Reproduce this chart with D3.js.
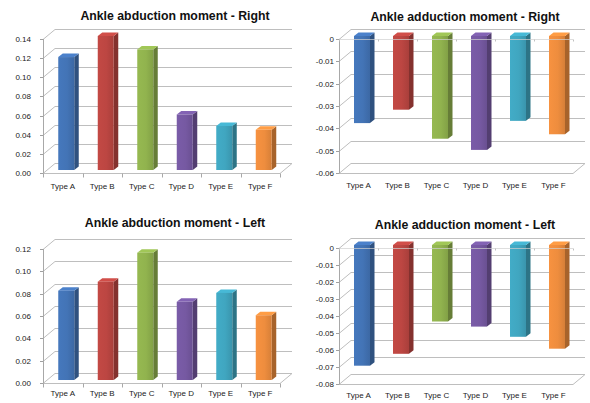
<!DOCTYPE html>
<html>
<head>
<meta charset="utf-8">
<script src="https://cdn.jsdelivr.net/npm/d3@7"></script>
<style>
  html, body { margin: 0; padding: 0; background: #fff; }
  svg { display: block; }
  text { font-family: "Liberation Sans", Arial, sans-serif; }
</style>
</head>
<body>
<svg id="chart" width="590" height="403"></svg>
<script>
// Categories shared by all four panels
const categories = ["Type A", "Type B", "Type C", "Type D", "Type E", "Type F"];

// Series values (N·m/kg)
const abductionRight = [0.118, 0.140, 0.126, 0.058, 0.046, 0.042];
const adductionRight = [-0.039, -0.033, -0.046, -0.051, -0.038, -0.044];
const abductionLeft  = [0.080, 0.088, 0.114, 0.070, 0.078, 0.058];
const adductionLeft  = [-0.071, -0.064, -0.045, -0.048, -0.054, -0.061];

// Value-axis ticks
const ticksAbductionRight = [0, 0.02, 0.04, 0.06, 0.08, 0.10, 0.12, 0.14];
const ticksAdductionRight = [0, -0.01, -0.02, -0.03, -0.04, -0.05, -0.06];
const ticksAbductionLeft  = [0, 0.02, 0.04, 0.06, 0.08, 0.10, 0.12];
const ticksAdductionLeft  = [0, -0.01, -0.02, -0.03, -0.04, -0.05, -0.06, -0.07, -0.08];

// Column colours, one per category
const colors = ["#4374B6", "#BC4642", "#91B34E", "#7659A2", "#40A6C0", "#EE8D3E"];

const fmtFixed2 = v => v.toFixed(2);
const fmtSigned = v => (v === 0 ? "0" : v.toFixed(2));

const panels = [
  { title: "Ankle abduction moment - Right", values: abductionRight, ticks: ticksAbductionRight, fmt: fmtFixed2,
    x0: 43, w: 237, yBottom: 173, yTop: 39, titleX: 175, titleY: 16, labelX: 31, catY: 186 },
  { title: "Ankle adduction moment - Right", values: adductionRight, ticks: ticksAdductionRight, fmt: fmtSigned,
    x0: 339, w: 234, yBottom: 173, yTop: 39, titleX: 465, titleY: 17, labelX: 334, catY: 185 },
  { title: "Ankle abduction moment - Left", values: abductionLeft, ticks: ticksAbductionLeft, fmt: fmtFixed2,
    x0: 43, w: 237, yBottom: 383, yTop: 249, titleX: 175, titleY: 223, labelX: 31, catY: 393 },
  { title: "Ankle adduction moment - Left", values: adductionLeft, ticks: ticksAdductionLeft, fmt: fmtSigned,
    x0: 339, w: 234, yBottom: 384, yTop: 248, titleX: 465, titleY: 225, labelX: 334, catY: 395 }
];

// Oblique depth of the plot box and of each column
const DX = 12, DY = -10;          // full depth of walls / floor
const FX = 3.5, FY = -3;          // column front face inset from the front plane
const BX = 4.5, BY = -3.5;        // column depth
const BAR_W = 16;
const GRID = "#bebebe";

const svg = d3.select("#chart");
const defs = svg.append("defs");

// Front-face gradients for the columns
colors.forEach((c, i) => {
  const g = defs.append("linearGradient").attr("id", "grad" + i)
    .attr("x1", "0%").attr("x2", "100%").attr("y1", "0%").attr("y2", "0%");
  g.append("stop").attr("offset", "0%").attr("stop-color", d3.color(c).brighter(0.1));
  g.append("stop").attr("offset", "55%").attr("stop-color", d3.color(c));
  g.append("stop").attr("offset", "100%").attr("stop-color", d3.color(c).darker(0.3));
});

const line = (g, x1, y1, x2, y2, stroke, sw) =>
  g.append("line").attr("x1", x1).attr("y1", y1).attr("x2", x2).attr("y2", y2)
    .attr("stroke", stroke).attr("stroke-width", sw || 1);

panels.forEach(p => {
  const g = svg.append("g");
  const extent = d3.extent(p.ticks);
  const y = d3.scaleLinear().domain(extent).range([p.yBottom, p.yTop]);
  const x = d3.scaleBand().domain(categories).range([p.x0, p.x0 + p.w]);

  // Title
  g.append("text").attr("x", p.titleX).attr("y", p.titleY + 4)
    .attr("text-anchor", "middle").attr("font-size", 12.3).attr("font-weight", "bold")
    .attr("fill", "#111").text(p.title);

  // Side-wall diagonals and back-wall gridlines
  p.ticks.forEach(t => {
    const yy = Math.round(y(t)) + 0.5;
    line(g, p.x0, yy, p.x0 + DX, yy + DY, GRID);
    line(g, p.x0 + DX, yy + DY, p.x0 + p.w + DX, yy + DY, GRID);
    line(g, p.x0 - 3, yy, p.x0, yy, "#a0a0a0");
  });

  // Floor outline (front edge and right edge)
  const yf = Math.round(y(extent[0])) + 0.5;
  line(g, p.x0, yf, p.x0 + p.w, yf, GRID);
  line(g, p.x0 + p.w, yf, p.x0 + p.w + DX, yf + DY, GRID);

  // Vertical value axis
  line(g, p.x0 + 0.5, Math.round(y(extent[1])), p.x0 + 0.5, yf, "#a8a8a8");

  // Value-axis labels
  g.selectAll("text.tick").data(p.ticks).join("text").attr("class", "tick")
    .attr("x", p.labelX).attr("y", t => y(t) + 3)
    .attr("text-anchor", "end").attr("font-size", 8).attr("fill", "#222")
    .text(p.fmt);

  // Category ticks along the floor front edge
  const yz = Math.round(y(0)) + 0.5;
  categories.concat([null]).forEach((c, i) => {
    const xx = Math.round(p.x0 + i * x.bandwidth()) + 0.5;
    if (extent[0] >= 0) line(g, xx, yf, xx, yf + 4, "#a8a8a8");
  });

  // Category labels
  g.selectAll("text.cat").data(categories).join("text").attr("class", "cat")
    .attr("x", c => x(c) + x.bandwidth() / 2).attr("y", p.catY + 3)
    .attr("text-anchor", "middle").attr("font-size", 8).attr("fill", "#222")
    .text(c => c);

  // Columns: side face, top face, front face
  p.values.forEach((v, i) => {
    const c = d3.color(colors[i]);
    const xl = x(categories[i]) + x.bandwidth() / 2 - BAR_W / 2 + FX;
    const xr = xl + BAR_W;
    const yt = y(Math.max(v, 0)) + FY;
    const yb = y(Math.min(v, 0)) + FY;
    g.append("path")
      .attr("d", `M${xr},${yt}L${xr + BX},${yt + BY}L${xr + BX},${yb + BY}L${xr},${yb}Z`)
      .attr("fill", c.darker(1.0));
    g.append("path")
      .attr("d", `M${xl},${yt}L${xr},${yt}L${xr + BX},${yt + BY}L${xl + BX},${yt + BY}Z`)
      .attr("fill", c.brighter(0.3));
    g.append("rect").attr("x", xl).attr("y", yt).attr("width", BAR_W).attr("height", yb - yt)
      .attr("fill", `url(#grad${i})`);
  });

  // Category axis at zero when the columns hang below it
  if (extent[0] < 0) {
    line(g, p.x0, yz, p.x0 + p.w, yz, "#d0d0d0").attr("stroke-opacity", 0.7);
    categories.concat([null]).forEach((c, i) => {
      const xx = Math.round(p.x0 + i * x.bandwidth()) + 0.5;
      line(g, xx, yz, xx, yz + 2, "#c0c0c0");
    });
  }
});
</script>
</body>
</html>
